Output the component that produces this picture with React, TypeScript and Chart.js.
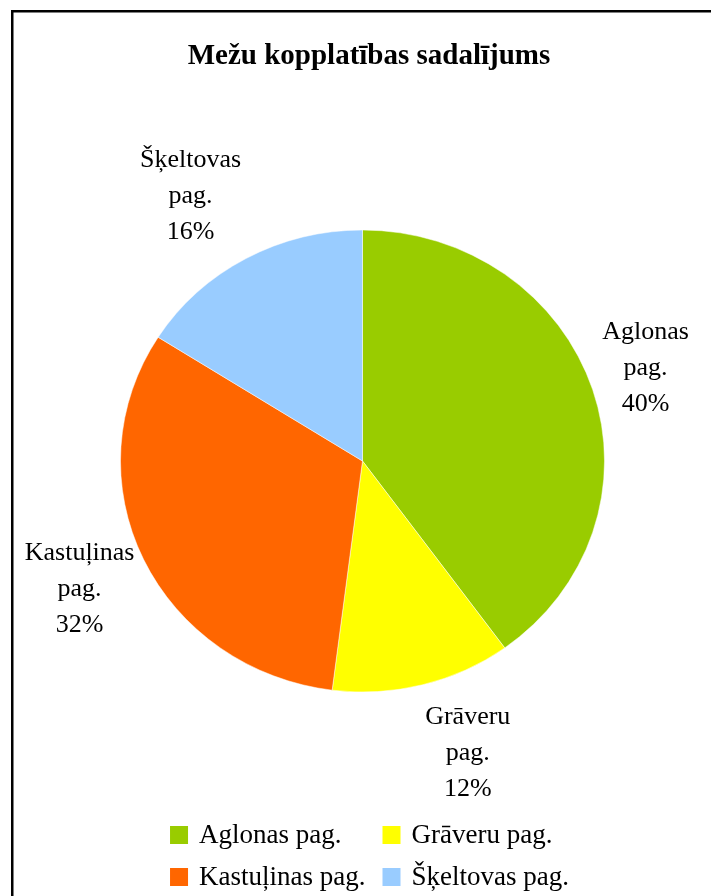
import React, { useEffect, useRef } from "react";
import { Chart, registerables } from "chart.js";

Chart.register(...registerables);

const TITLE = "Mežu kopplatības sadalījums";
const categories = ["Aglonas pag.", "Grāveru pag.", "Kastuļinas pag.", "Šķeltovas pag."];
const shares = [40, 12, 32, 16];
const colors = ["#99CC00", "#FFFF00", "#FF6600", "#99CCFF"];

const FONT = "'Liberation Serif', 'Times New Roman', serif";
const RX = 242;
const RY = 231;

const framePlugin = {
  id: "frame",
  beforeDraw(chart: any) {
    const ctx = chart.ctx;
    ctx.save();
    ctx.fillStyle = "#ffffff";
    ctx.fillRect(0, 0, chart.width, chart.height);
    ctx.strokeStyle = "#000000";
    ctx.lineWidth = 2.5;
    ctx.strokeRect(12.25, 11.25, chart.width + 20, chart.height + 20);
    // title
    ctx.fillStyle = "#000000";
    ctx.font = `bold 29px ${FONT}`;
    ctx.textAlign = "center";
    ctx.textBaseline = "alphabetic";
    ctx.fillText(TITLE, 369, 64);
    ctx.restore();
  },
  beforeDatasetsDraw(chart: any) {
    const ctx = chart.ctx;
    const a = chart.chartArea;
    const cx = (a.left + a.right) / 2;
    const cy = (a.top + a.bottom) / 2;
    ctx.save();
    ctx.translate(cx, cy);
    ctx.scale(1, RY / RX);
    ctx.translate(-cx, -cy);
  },
  afterDatasetsDraw(chart: any) {
    const ctx = chart.ctx;
    ctx.restore();
    const a = chart.chartArea;
    const cx = (a.left + a.right) / 2;
    const cy = (a.top + a.bottom) / 2;
    const meta = chart.getDatasetMeta(0);
    const data: number[] = chart.data.datasets[0].data;
    const total = data.reduce((s, v) => s + v, 0);
    const labels: string[] = chart.data.labels;
    ctx.save();
    ctx.fillStyle = "#000000";
    ctx.font = `26px ${FONT}`;
    ctx.textAlign = "center";
    ctx.textBaseline = "middle";
    const lineH = 36;
    const gap = 10;
    meta.data.forEach((arc: any, i: number) => {
      const mid = (arc.startAngle + arc.endAngle) / 2;
      const parts = labels[i].split(" ");
      const lines = [...parts, `${Math.round((data[i] / total) * 100)}%`];
      const w = Math.max(...lines.map((l) => ctx.measureText(l).width));
      const h = lines.length * lineH;
      const px = cx + (RX + gap) * Math.cos(mid);
      const py = cy + (RY + gap) * Math.sin(mid);
      const bx = px + Math.sign(Math.cos(mid)) * (w / 2);
      const by = py + Math.sin(mid) * (h / 2 + 7);
      lines.forEach((l, k) => {
        ctx.fillText(l, bx, by + (k - (lines.length - 1) / 2) * lineH);
      });
    });
    ctx.restore();
  },
  afterDraw(chart: any) {
    const ctx = chart.ctx;
    const labels: string[] = chart.data.labels;
    const bg: string[] = chart.data.datasets[0].backgroundColor;
    ctx.save();
    ctx.font = `27px ${FONT}`;
    ctx.textBaseline = "middle";
    ctx.textAlign = "left";
    const box = 18;
    const tgap = 11;
    const colGap = 17;
    const maxW = Math.max(...labels.map((l) => ctx.measureText(l).width));
    const colW = box + tgap + maxW + colGap;
    const total = 2 * colW - colGap;
    const left = 374 - total / 2;
    const rows = [835, 877];
    labels.forEach((l, i) => {
      const r = Math.floor(i / 2);
      const c = i % 2;
      const x = left + c * colW;
      const y = rows[r];
      ctx.fillStyle = bg[i];
      ctx.fillRect(x, y - box / 2, box, box);
      ctx.fillStyle = "#000000";
      ctx.fillText(l, x + box + tgap, y + 1);
    });
    ctx.restore();
  },
};

export default function App() {
  const ref = useRef<HTMLCanvasElement | null>(null);
  useEffect(() => {
    if (!ref.current) return;
    const chart = new Chart(ref.current, {
      type: "pie",
      data: {
        labels: categories,
        datasets: [
          {
            data: shares,
            backgroundColor: colors,
            borderColor: "#ffffff",
            borderWidth: 0.5,
            clip: false,
          } as any,
        ],
      },
      options: {
        responsive: false,
        animation: false,
        radius: RX,
        layout: { padding: { left: 120, right: 106, top: 219, bottom: 193 } },
        plugins: {
          legend: { display: false },
          title: { display: false },
          tooltip: { enabled: false },
        },
      } as any,
      plugins: [framePlugin],
    });
    return () => chart.destroy();
  }, []);
  return (
    <div style={{ position: "absolute", left: 0, top: 0, width: 711, height: 896 }}>
      <canvas ref={ref} width={711} height={896} />
    </div>
  );
}
